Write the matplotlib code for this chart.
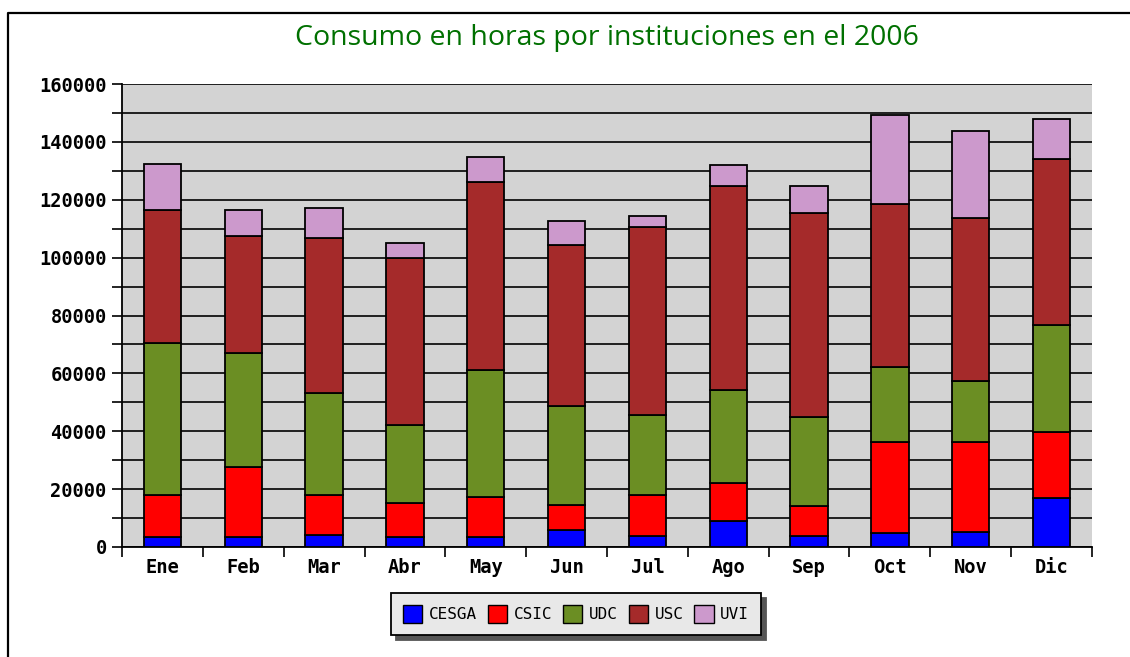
import numpy as np
import matplotlib
matplotlib.use('Agg')
import matplotlib.pyplot as plt
from matplotlib.patches import Rectangle
from matplotlib.lines import Line2D

months = ['Ene', 'Feb', 'Mar', 'Abr', 'May', 'Jun',
          'Jul', 'Ago', 'Sep', 'Oct', 'Nov', 'Dic']
institutions = ['CESGA', 'CSIC', 'UDC', 'USC', 'UVI']
colors = ['#0000ff', '#ff0000', '#6b8e23', '#a52a2a', '#cc99cc']

# hours per institution and month
cesga = [3600, 3400, 4200, 3500, 3600, 5900, 3900, 9000, 3900, 4700, 5300, 16800]
csic = [14400, 24400, 13900, 11600, 13800, 8600, 14100, 13200, 10400, 31500, 30900, 23000]
udc = [52600, 39200, 35000, 27100, 43600, 34300, 27600, 32100, 30700, 26100, 21200, 36900]
usc = [45800, 40600, 53800, 57500, 65100, 55600, 64900, 70600, 70300, 56100, 56200, 57400]
uvi = [15800, 8900, 10100, 5300, 8700, 8400, 4000, 7100, 9600, 30900, 30100, 13800]
series = [cesga, csic, udc, usc, uvi]

yticks = list(range(0, 160001, 20000))

fig = plt.figure(figsize=(11.3, 6.57), dpi=100)
ax = fig.add_axes([122 / 1130, 1 - 547 / 657, 970 / 1130, 463 / 657])

x = np.arange(len(months))
bottom = np.zeros(len(months))
handles = []
for name, vals, col in zip(institutions, series, colors):
    ax.bar(x, vals, 0.46, bottom=bottom, color=col, edgecolor='black',
           linewidth=1.3, label=name, zorder=3)
    bottom += np.array(vals)
    handles.append(Rectangle((0, 0), 1, 1, facecolor=col, edgecolor='black', linewidth=1.0))

ax.set_facecolor('#d3d3d3')
ax.set_xlim(-0.5, len(months) - 0.5)
ax.set_ylim(0, 160000)

ax.set_yticks(yticks)
ax.set_yticklabels([str(v) for v in yticks])
ax.set_yticks(np.arange(10000, 160000, 20000), minor=True)
ax.grid(True, axis='y', which='both', color='black', linewidth=1.2, zorder=1)
ax.set_axisbelow(True)

ax.set_xticks(x)
ax.set_xticklabels(months)
ax.set_xticks(np.arange(-0.5, len(months), 1.0), minor=True)

mono = {'family': 'DejaVu Sans Mono', 'weight': 'bold', 'size': 13.5}
for lab in ax.get_yticklabels() + ax.get_xticklabels():
    lab.set_fontproperties(matplotlib.font_manager.FontProperties(**mono))

ax.tick_params(axis='y', which='both', direction='out', length=7, width=1.2, pad=4)
ax.tick_params(axis='x', which='major', length=0, pad=8)
ax.tick_params(axis='x', which='minor', direction='out', length=7, width=1.2)

ax.spines['right'].set_visible(False)
ax.spines['top'].set_visible(False)
ax.spines['left'].set_linewidth(1.3)
ax.spines['bottom'].set_linewidth(1.3)

fig.text(607 / 1130, 1 - 38 / 657, 'Consumo en horas por instituciones en el 2006',
         ha='center', va='center', color='#007000', fontsize=20.5, family='Open Sans')

leg = fig.legend(handles, institutions, loc='center', ncol=5,
                 bbox_to_anchor=(576 / 1130, 1 - 614 / 657),
                 prop={'family': 'DejaVu Sans Mono', 'size': 11.5},
                 fancybox=False, shadow={'color': '#555555', 'alpha': 1.0, 'ox': 3.5, 'oy': -3.5},
                 framealpha=1, facecolor='#e8e8e8', edgecolor='black',
                 handlelength=1.2, handleheight=1.3, handletextpad=0.4,
                 columnspacing=0.7, borderpad=0.75, borderaxespad=0)
leg.get_frame().set_linewidth(1.3)

# frame line around the picture (top and left only are visible)
fig.add_artist(Line2D([8 / 1130, 8 / 1130, 1.0], [0.0, 1 - 13 / 657, 1 - 13 / 657],
                      transform=fig.transFigure, color='black', linewidth=1.6))

fig.savefig('out.png', dpi=100)
